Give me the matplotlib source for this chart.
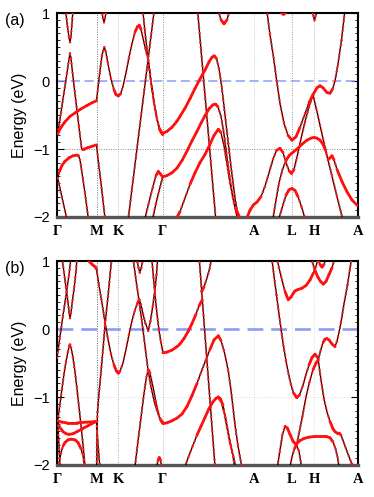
import numpy as np
import matplotlib
matplotlib.use("Agg")
import matplotlib.pyplot as plt
from matplotlib.collections import LineCollection

plt.rcParams['font.family'] = ['Liberation Sans', 'DejaVu Sans']

# k-path (units: distance along the path), high-symmetry points
kpos = [0, 39.5, 61.3, 105.7, 197, 235, 257, 301]
klabels = ['Γ', 'M', 'K', 'Γ', 'A', 'L', 'H', 'A']

# ---- panel (a) bands, (k, E in eV) ----
a01 = [(8.5, 1.05), (10.5, 0.8), (12, 0.64), (13, 0.57), (14, 0.66), (15, 0.85), (16, 1.05)]
a02 = [(0.7, -0.78), (4, -0.46), (7, -0.17), (10, 0.12), (12, 0.32), (13, 0.41), (14, 0.33), (16, 0.06),
       (19, -0.31), (22, -0.68), (24.7, -1.0), (27, -1.0), (31, -0.98), (35, -0.96), (39.5, -0.94),
       (41, -1.14), (44, -1.5), (48, -2.02)]
a03 = [(0.7, -0.78), (4, -0.68), (8, -0.6), (13, -0.52), (18, -0.47), (24, -0.41), (30, -0.36), (35, -0.32),
       (39.5, -0.29), (41, -0.1), (43, 0.15), (45, 0.38), (47.3, 0.5), (49, 0.42), (51, 0.25), (54, 0.03),
       (57, -0.13), (59, -0.2), (61.3, -0.22), (63.5, -0.19), (66, -0.08), (69, 0.12), (72, 0.35), (75, 0.55),
       (78, 0.72), (80.5, 0.8), (82.3, 0.82), (84, 0.76), (86, 0.63), (88.5, 0.47), (91.3, 0.31), (94, 0.0),
       (97, -0.3), (100, -0.55), (102.5, -0.7), (104.5, -0.76), (105.7, -0.77)]
a04 = [(85.7, 1.05), (88, 0.72), (91.3, 0.3), (94, -0.02), (97, -0.33), (100, -0.57), (102.5, -0.71), (105.7, -0.79)]
a05 = [(97.3, 1.05), (84, -0.52), (71.3, -2.02)]
a06 = [(0.7, -1.43), (2.5, -1.33), (5, -1.24), (8, -1.18), (12, -1.13), (16, -1.1), (20, -1.09), (21.5, -1.1),
       (23, -1.16), (25, -1.35), (28, -1.65), (31.3, -2.02)]
a07 = [(0.7, -1.43), (9.7, -2.02)]
a08 = [(44.5, 1.05), (46, 0.92), (47, 0.86), (48, 0.92), (49.5, 1.05)]
a09 = [(88, -2.02), (92, -1.78), (96, -1.55), (99, -1.39), (101.3, -1.33), (103, -1.36), (105.7, -1.41)]
a10 = [(95.7, -2.02), (99, -1.8), (102, -1.62), (105.7, -1.41)]
a11 = [(105.7, -0.77), (110, -0.74), (115, -0.68), (120, -0.59), (123, -0.52), (128, -0.4), (133, -0.26),
       (138, -0.11), (143, 0.03), (148, 0.16), (152, 0.28), (155, 0.35), (157.3, 0.37), (159.5, 0.33),
       (162, 0.18), (164.7, -0.08), (168, -0.5), (171.3, -0.92), (174.5, -1.32), (178, -1.72), (181.3, -2.02)]
a12 = [(105.7, -1.41), (110, -1.39), (115, -1.35), (120, -1.28), (125, -1.17), (130, -1.03), (135, -0.88),
       (140, -0.74), (144, -0.62), (148, -0.51), (152, -0.41), (156, -0.35), (158.5, -0.34), (161, -0.38),
       (164, -0.52), (167, -0.78), (170, -1.12), (173.5, -1.5), (177, -1.8), (180.5, -2.02)]
a13 = [(119.5, -2.02), (123, -1.92), (128, -1.72), (133, -1.52), (138, -1.35), (143, -1.2), (148, -1.08),
       (153, -0.93), (157, -0.8), (161.3, -0.71), (164, -0.76), (167, -0.95), (170, -1.22), (173, -1.5),
       (176, -1.72), (179, -1.88), (183, -2.02)]
a14 = [(140.5, 1.05), (149.6, -0.48), (158.7, -2.02)]
a15 = [(161, 1.05), (164, 0.9), (167, 0.84), (170, 0.9), (173, 1.05)]
a16 = [(189.7, -2.02), (193, -1.9), (196.5, -1.82), (200, -1.78), (204, -1.7), (208, -1.55), (212, -1.35),
       (216, -1.15), (219.5, -1.02), (223, -0.99), (226, -1.05), (229, -1.2), (232, -1.32), (234.5, -1.36),
       (237, -1.3), (240, -1.12), (244, -0.85), (248, -0.6), (252, -0.38), (256, -0.2), (260, -0.1),
       (263, -0.07), (266, -0.1), (270, -0.17), (273, -0.18), (275.5, -0.12), (278, 0.0), (281, 0.25),
       (284.5, 0.6), (288, 1.05)]
a17 = [(209.7, 1.05), (213, 0.68), (216.5, 0.35), (219.7, 0.0), (223, -0.33), (227, -0.62), (231, -0.8),
       (235, -0.87), (239, -0.82), (243, -0.68), (248, -0.48), (252, -0.32), (256, -0.2), (260, -0.45),
       (265, -0.78), (270, -1.1), (275, -1.4), (280, -1.7), (285.5, -2.02)]
a18 = [(216, -2.02), (219, -1.75), (222, -1.5), (225.5, -1.3), (229, -1.17), (232, -1.1), (235, -1.06),
       (240, -1.0), (245, -0.93), (250, -0.87), (254, -0.84), (257, -0.83), (260, -0.84), (263, -0.87),
       (266, -0.93), (268.5, -1.02), (271, -1.16), (273, -1.13), (275, -1.1), (277, -1.16), (280, -1.3),
       (285, -1.48), (290, -1.63), (295, -1.75), (301, -1.84)]
a19 = [(222, -2.02), (226, -1.82), (229, -1.68), (232, -1.6), (235, -1.58), (238, -1.61), (241, -1.7),
       (244.5, -1.85), (248, -2.02)]
a20 = [(222, 1.05), (224.5, 1.0), (226.5, 0.98), (228.5, 1.0), (231, 1.05)]
a21 = [(254.5, 1.05), (256.5, 0.95), (257.5, 0.89), (258.5, 0.95), (260.5, 1.05)]

# ---- panel (b) bands ----
b01 = [(5, 1.05), (7, 0.83), (9, 0.61), (11, 0.39), (12.3, 0.23), (13, 0.16), (14, 0.24), (15.5, 0.42),
       (17.3, 0.62), (19, 0.85), (20, 1.05)]
b02 = [(0, -0.42), (3, -0.11), (6, 0.2), (9.7, 0.56), (12, 0.8), (14, 1.05)]
b03 = [(0.7, -1.35), (3, -1.1), (5, -0.88), (7, -0.66), (9, -0.48), (11, -0.33), (12.3, -0.25), (13, -0.23),
       (14, -0.27), (16, -0.42), (18, -0.63), (20, -0.88), (22, -1.15), (24, -1.42), (26, -1.7), (28, -2.02)]
b04 = [(0.7, -1.35), (5, -1.37), (10, -1.38), (20, -1.38), (30, -1.37), (39.5, -1.36)]
b05 = [(0.7, -1.35), (3, -1.45), (6, -1.51), (9, -1.54), (12, -1.55), (16, -1.54), (20, -1.51), (25, -1.47),
       (30, -1.43), (35, -1.39), (39.5, -1.36)]
b06 = [(0.7, -1.35), (3, -2.02)]
b07 = [(2, -1.97), (4, -1.82), (6, -1.72), (8, -1.67), (11, -1.63), (14, -1.62), (18, -1.63), (21, -1.67),
       (24, -1.76), (26, -1.86), (27.5, -2.02)]
b08 = [(30, 1.03), (33, 0.98), (36, 0.94), (38.5, 0.91), (39.5, 0.88), (42, 0.64), (45, 0.38), (48, 0.1),
       (51, -0.15), (54, -0.37), (57, -0.53), (59.5, -0.62), (61.3, -0.65), (63, -0.62), (66, -0.5), (69, -0.3),
       (72, -0.08), (75, 0.12), (78, 0.28), (80.5, 0.38), (82.3, 0.43), (84, 0.36), (86, 0.22), (88.5, 0.08),
       (91.3, -0.03), (93.5, 0.12), (96, 0.36), (98, 0.58), (99.5, 0.8), (100.7, 1.05)]
b09 = [(39.7, -2.02), (40, -1.5), (40.5, -1.22), (42, -0.95), (44, -0.63), (46, -0.3), (48, 0.06), (51, 0.48),
       (54.7, 1.05)]
b10 = [(39.5, -1.36), (41, -1.7), (42.8, -2.02)]
b11 = [(76, 1.05), (79, 0.72), (82, 0.42), (85, 0.1), (88, -0.25), (91, -0.6), (94, -0.85), (97, -1.05),
       (100, -1.2), (103, -1.32), (106, -1.38)]
b12 = [(78, -2.02), (81, -1.65), (84, -1.3), (87, -0.95), (89.5, -0.7), (91.3, -0.6), (93, -0.65), (96, -0.85),
       (99, -1.08), (102, -1.27), (104, -1.35), (106, -1.39)]
b13 = [(94.7, 1.05), (96.5, 0.75), (98, 0.5), (100, 0.22), (102, -0.02), (104, -0.2), (106, -0.35)]
b14 = [(79.5, 1.05), (81.5, 0.9), (82.8, 0.83), (84.3, 0.9), (86.3, 1.05)]
b15 = [(99.7, -2.02), (101, -1.93), (102.3, -1.89), (103.5, -1.93), (104.7, -2.02)]
b16 = [(106, -0.35), (110, -0.34), (115, -0.31), (120, -0.26), (123, -0.22), (127, -0.14), (131, -0.04),
       (135, 0.08), (139, 0.22), (142, 0.34), (145.3, 0.43)]
b17 = [(142.2, 1.05), (144.7, 0.55), (151, -0.67), (158, -2.02)]
b18 = [(144.7, 0.55), (147, 0.62), (150, 0.75), (152.5, 0.88), (154.7, 1.05)]
b19 = [(106, -1.39), (110, -1.38), (115, -1.35), (120, -1.31), (125, -1.25), (130, -1.14), (135, -0.98),
       (140, -0.8), (145, -0.6), (149, -0.45), (153, -0.3), (157, -0.16), (161.3, -0.1), (164, -0.17),
       (167, -0.32), (169, -0.45), (171.3, -0.62), (174, -0.9), (176, -1.15), (178, -1.41), (181, -1.72),
       (184.7, -2.02)]
b20 = [(128, -2.02), (132, -1.86), (136, -1.71), (140, -1.56), (144, -1.43), (148, -1.3), (152, -1.17),
       (156, -1.07), (159, -1.02), (161.3, -1.0), (163.5, -1.03), (166, -1.12), (168.5, -1.3), (171, -1.5),
       (174, -1.72), (176.5, -1.88), (178.5, -2.02)]
b21 = [(161.3, -1.0), (164, -1.06), (167, -1.22), (170, -1.45), (173, -1.68), (176, -1.87), (177.5, -2.02)]
b22 = [(214.7, 1.05), (217, 0.78), (219.5, 0.5), (222, 0.22), (224, 0.0), (226.5, -0.25), (229, -0.47),
       (231.5, -0.66), (234, -0.82), (236.5, -0.94), (239.7, -1.01), (242.5, -0.97), (245.5, -0.85),
       (249, -0.67), (252, -0.53), (255, -0.42), (258, -0.37), (260, -0.41), (261.3, -0.46), (264, -0.75),
       (267, -1.03), (270, -1.22), (273, -1.36), (276, -1.47), (278, -1.51), (280, -1.53), (282, -1.53),
       (284, -1.56), (287, -1.68), (290, -1.8), (294.7, -1.98), (296, -2.02)]
b23 = [(239.7, -1.7), (242.5, -1.5), (245.5, -1.28), (249, -1.0), (252.5, -0.78), (256, -0.6), (259, -0.5),
       (261.3, -0.45), (263.5, -0.32), (266, -0.2), (268, -0.15), (269.7, -0.14), (272, -0.16), (275, -0.22),
       (278, -0.26), (280, -0.18), (282, -0.05), (284, 0.1), (287, 0.37), (290.5, 0.65), (294.7, 1.05)]
b24 = [(220.5, -2.02), (223, -1.78), (225.5, -1.55), (228, -1.43), (230.5, -1.46), (233, -1.55), (236, -1.65),
       (239.7, -1.71), (242, -1.8), (244.5, -2.02)]
b25 = [(233, -2.02), (235, -1.88), (237.5, -1.76), (240, -1.68), (243, -1.64), (247, -1.61), (252, -1.59),
       (258, -1.58), (264, -1.58), (269, -1.58), (273, -1.6), (276, -1.66), (278.5, -1.76), (280.5, -1.88),
       (282, -2.02)]
b26 = [(219.7, 1.05), (222, 0.9), (225, 0.72), (228, 0.55), (231.3, 0.43), (234, 0.47), (236.5, 0.53),
       (238, 0.56), (241, 0.58), (245, 0.6), (249, 0.64), (253, 0.72), (256.3, 0.82), (259, 0.92), (261.5, 1.05)]
b27 = [(254, 1.05), (257.5, 0.88), (261, 0.76), (263.5, 0.7), (266.3, 0.66), (269, 0.7), (272, 0.8),
       (275, 0.9), (278, 1.05)]
b28 = [(260.5, 1.05), (263, 0.95), (265, 0.91), (267, 0.95), (269.5, 1.05)]

bands_a = [a01, a02, a03, a04, a05, a06, a07, a08, a09, a10, a11, a12, a13, a14, a15, a16, a17, a18,
           a19, a20, a21]
bands_b = [b01, b02, b03, b04, b05, b06, b07, b08, b09, b10, b11, b12, b13, b14, b15, b16, b17, b18,
           b19, b20, b21, b22, b23, b24, b25, b26, b27, b28]

PX_PER_EV = 68.0  # vertical pixels per eV, horizontal k unit is ~1 pixel


def draw_band(ax, pts):
    k = np.array([p[0] for p in pts])
    e = np.array([p[1] for p in pts])
    ax.plot(k, e, color='black', lw=0.95, zorder=3)
    segs = np.stack([np.column_stack([k[:-1], e[:-1]]),
                     np.column_stack([k[1:], e[1:]])], axis=1)
    slope = np.abs(np.diff(e)) * PX_PER_EV / np.maximum(np.abs(np.diff(k)), 1e-6)
    steep = slope > 2.5
    # flat parts: dense fat-band dots merge to a solid red line
    if (~steep).any():
        lc = LineCollection(segs[~steep], colors='#ff1010', linewidths=2.0, zorder=4)
        lc.set_capstyle('round')
        ax.add_collection(lc)
    # steep parts: sparse red dots on the black line
    if steep.any():
        lc = LineCollection(segs[steep], colors='#ff1a1a', linewidths=1.7,
                            linestyles=[(0, (0.1, 1.9))], zorder=4)
        lc.set_capstyle('round')
        ax.add_collection(lc)


fig = plt.figure(figsize=(3.74, 4.97), dpi=100)
ax_a = fig.add_axes([57 / 374, 1 - 217 / 497, 301 / 374, 204 / 497])
ax_b = fig.add_axes([57 / 374, 1 - 465 / 497, 301 / 374, 204 / 497])

vcol_a = ['#777777', '#bbbbbb', '#888888', '#cccccc', '#999999', '#bbbbbb']
vcol_b = ['#666666', '#aaaaaa', '#bbbbbb', '#dddddd', '#dddddd', '#dddddd']

for ax, bands, vcols, hcol, fermi_lw in [(ax_a, bands_a, vcol_a, '#888888', 1.1),
                                         (ax_b, bands_b, vcol_b, '#e2e2e2', 1.9)]:
    for kv, c in zip(kpos[1:-1], vcols):
        ax.axvline(kv, color=c, lw=0.7, ls=(0, (1, 1.5)), zorder=1)
    ax.axhline(-1, color=hcol, lw=0.7, ls=(0, (1, 1.5)), zorder=1)
    ax.axhline(0, color='#8d9cf2', lw=fermi_lw, ls=(0, (6, 3)), zorder=2)

    for band in bands:
        draw_band(ax, band)

    ax.set_xlim(0, 301)
    ax.set_ylim(-2, 1)
    ax.set_xticks(kpos)
    ax.set_xticklabels(klabels, family=['Liberation Serif', 'DejaVu Serif'], fontweight='bold', fontsize=10.5)
    ax.tick_params(axis='x', length=0, pad=6)
    ax.set_yticks([-2, -1, 0, 1])
    ax.set_yticks(np.arange(-2, 1.001, 0.1), minor=True)
    ax.tick_params(axis='y', which='both', direction='in', left=True, right=True)
    ax.tick_params(axis='y', which='major', length=5, width=0.8, labelsize=10.5, pad=5)
    ax.tick_params(axis='y', which='minor', length=2.5, width=0.6)
    ax.set_ylabel('Energy (eV)', fontsize=11.5)
    ax.yaxis.set_label_coords(-0.10, 0.5)
    for s in ax.spines.values():
        s.set_linewidth(1.5)
    ax.spines['bottom'].set_color('#555555')
    ax.spines['bottom'].set_linewidth(2.4)

fig.text(15 / 374, 1 - 21 / 497, '(a)', fontsize=11.5, ha='center', va='center')
fig.text(15 / 374, 1 - 269 / 497, '(b)', fontsize=11.5, ha='center', va='center')

fig.savefig('out.png', dpi=100)
